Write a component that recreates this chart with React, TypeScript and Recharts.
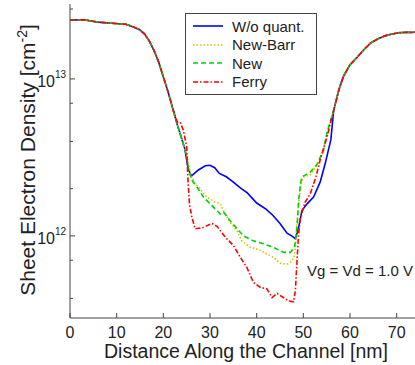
import { LineChart, Line, XAxis, YAxis } from 'recharts';

// shared stretches where all four models overlap
const leftX = [0, 3, 6, 9, 12, 14, 15, 16, 17, 18, 19, 20, 21, 22];
const leftN = [2.37e13, 2.38e13, 2.3e13, 2.26e13, 2.23e13, 2.12e13, 2.05e13, 1.93e13, 1.74e13, 1.52e13, 1.28e13, 1.03e13, 8.3e12, 6.5e12];
const rightX = [56.5, 57.6, 58.6, 60, 61.5, 63, 64.5, 66, 67.5, 69, 70.5, 72, 73.5, 75];
const rightN = [6.3e12, 8.5e12, 1.04e13, 1.23e13, 1.37e13, 1.54e13, 1.7e13, 1.8e13, 1.88e13, 1.93e13, 1.97e13, 1.98e13, 1.98e13, 1.99e13];

const woQuantX = [23, 24, 24.6, 25.3, 26, 27.5, 29, 30, 31, 32, 33.5, 35, 36.5, 38, 40, 42, 43.5, 45, 46.5, 47.5, 48.3, 49, 49.7, 50.8, 52.2, 53.6, 54.7, 55.9];
const woQuantN = [5.1e12, 4.1e12, 3.6e12, 2.7e12, 2.4e12, 2.63e12, 2.8e12, 2.82e12, 2.72e12, 2.5e12, 2.38e12, 2.2e12, 2.02e12, 1.88e12, 1.62e12, 1.48e12, 1.35e12, 1.2e12, 1.04e12, 1.0e12, 9.6e11, 1.13e12, 1.45e12, 1.6e12, 1.77e12, 2.2e12, 2.9e12, 4.1e12];

const newBarrX = [23, 24, 25, 25.8, 26.8, 27.9, 29.3, 31.1, 32.2, 32.9, 34.3, 35.8, 36.8, 38.6, 40.4, 42.2, 43.6, 45.1, 46.5, 47.6, 48.1, 48.3, 48.5, 48.9, 49.5, 50.1, 51.5, 52.9, 54.3, 55.1];
const newBarrN = [5.1e12, 4.1e12, 3.3e12, 2.5e12, 2.15e12, 2.0e12, 1.77e12, 1.64e12, 1.6e12, 1.45e12, 1.22e12, 1.08e12, 9.3e11, 8.45e11, 8.2e11, 7.67e11, 7.3e11, 6.7e11, 6.6e11, 6.95e11, 7.5e11, 8.45e11, 1.08e12, 1.52e12, 2.16e12, 2.38e12, 2.45e12, 2.8e12, 3.45e12, 4.5e12];

const newX = [23, 24, 25, 25.5, 26.1, 27.2, 28.6, 30.4, 32.2, 32.9, 34.3, 35.8, 37.2, 39.3, 41.5, 43.6, 45.8, 47.2, 48.1, 48.3, 48.7, 49, 49.4, 49.7, 50.4, 51.5, 52.9, 54.3, 55.1];
const newN = [5.1e12, 4.1e12, 3.2e12, 2.6e12, 2.26e12, 2.05e12, 1.77e12, 1.56e12, 1.38e12, 1.42e12, 1.25e12, 1.11e12, 1.0e12, 9.3e11, 8.9e11, 8.45e11, 7.85e11, 7.85e11, 8.45e11, 9.3e11, 1.19e12, 1.68e12, 2.16e12, 2.38e12, 2.44e12, 2.55e12, 2.85e12, 3.5e12, 4.6e12];

const ferryX = [23, 23.6, 24.3, 25, 25.3, 25.6, 26.1, 26.8, 28.5, 30.4, 31.5, 33.3, 35, 36.5, 37.9, 39.3, 40.8, 42.2, 43.3, 44.4, 45.7, 46.8, 47.9, 48.3, 48.65, 49, 49.4, 50.4, 51.5, 52.7, 53.6, 55.1];
const ferryN = [5.3e12, 5.3e12, 4.7e12, 3.7e12, 2.2e12, 1.6e12, 1.32e12, 1.11e12, 1.13e12, 1.2e12, 1.15e12, 9.8e11, 8.7e11, 7.3e11, 6.3e11, 5.05e11, 4.7e11, 4.6e11, 4.05e11, 4.3e11, 4.05e11, 3.85e11, 3.8e11, 4.5e11, 7e11, 1.04e12, 1.32e12, 1.64e12, 1.86e12, 2.38e12, 3.04e12, 4.3e12];

const xTicks = [0, 10, 20, 30, 40, 50, 60, 70];
const yTicks = [4e11, 5e11, 6e11, 7e11, 8e11, 9e11, 1e12, 2e12, 3e12, 4e12, 5e12, 6e12, 7e12, 8e12, 9e12, 1e13, 2e13, 3e13];

const FONT = '"Liberation Sans", Arial, sans-serif';
const AXIS = '#444';

const pts = (xs: number[], ns: number[]) => xs.map((x, i) => ({ x, n: ns[i] }));
const series = (xs: number[], ns: number[]) => [...pts(leftX, leftN), ...pts(xs, ns), ...pts(rightX, rightN)];

const legendItems = [
  { name: 'W/o quant.', color: '#0000ff', dash: undefined, data: series(woQuantX, woQuantN) },
  { name: 'New-Barr', color: '#d4c400', dash: '1.5 2', data: series(newBarrX, newBarrN) },
  { name: 'New', color: '#00d000', dash: '5 3', data: series(newX, newN) },
  { name: 'Ferry', color: '#ff0000', dash: '5 2 1.5 2', data: series(ferryX, ferryN) },
];

function BottomTick({ x, y, payload }: any) {
  return (
    <g>
      <line x1={x} x2={x} y1={y} y2={y - 5} stroke={AXIS} />
      <text x={x} y={y + 20} textAnchor="middle" fontSize={16} fontFamily={FONT} fill="#222">
        {payload.value}
      </text>
    </g>
  );
}

function TopTick({ x, y, payload }: any) {
  if (payload.value === 0) return <g />;
  return <line x1={x} x2={x} y1={y} y2={y + 5} stroke={AXIS} />;
}

function LeftTick({ x, y, payload }: any) {
  const v = payload.value;
  const exp = Math.round(Math.log10(v));
  const major = Math.abs(v - Math.pow(10, exp)) < 1;
  return (
    <g>
      <line x1={x} x2={x + (major ? 5 : 3)} y1={y} y2={y} stroke={AXIS} />
      {major && (
        <>
          <text x={55} y={y + 8} textAnchor="end" fontSize={16} fontFamily={FONT} fill="#222">10</text>
          <text x={55} y={y - 1} fontSize={10} fontFamily={FONT} fill="#222">{exp}</text>
        </>
      )}
    </g>
  );
}

function YTitle() {
  return (
    <text transform="translate(35,160) rotate(-90)" textAnchor="middle" fontSize={21} fontFamily={FONT} fill="#222">
      Sheet Electron Density [cm<tspan fontSize={14} dy={-8}>-2</tspan><tspan dy={8}>]</tspan>
    </text>
  );
}

function XTitle() {
  return (
    <text x={246} y={358} textAnchor="middle" fontSize={19.5} fontFamily={FONT} fill="#222">
      Distance Along the Channel [nm]
    </text>
  );
}

export default function App() {
  return (
    <div style={{ position: 'absolute', top: 0, left: 0, width: 415, height: 365, overflow: 'hidden', background: '#fff' }}>
      <LineChart width={430} height={365} margin={{ top: 4, right: 10, left: 0, bottom: 0 }}>
        <XAxis
          dataKey="x"
          type="number"
          domain={[0, 75]}
          ticks={xTicks}
          height={47}
          tickSize={0}
          tickMargin={0}
          tickLine={false}
          tick={<BottomTick />}
          axisLine={{ stroke: AXIS }}
          label={<XTitle />}
          allowDataOverflow
        />
        <XAxis
          xAxisId="top"
          orientation="top"
          dataKey="x"
          type="number"
          domain={[0, 75]}
          ticks={xTicks}
          height={0}
          tickSize={0}
          tickMargin={0}
          tickLine={false}
          tick={<TopTick />}
          axisLine={{ stroke: AXIS }}
          allowDataOverflow
        />
        <YAxis
          scale="log"
          type="number"
          domain={[3e11, 3e13]}
          ticks={yTicks}
          width={70}
          tickSize={0}
          tickMargin={0}
          tickLine={false}
          tick={<LeftTick />}
          axisLine={{ stroke: AXIS }}
          label={<YTitle />}
          allowDataOverflow
        />
        {legendItems.map((s) => (
          <Line
            key={s.name}
            data={s.data}
            dataKey="n"
            name={s.name}
            type="linear"
            dot={false}
            stroke={s.color}
            strokeWidth={1.6}
            strokeDasharray={s.dash}
            isAnimationActive={false}
          />
        ))}
      </LineChart>

      <div
        style={{
          position: 'absolute', left: 185, top: 13, width: 130, height: 80,
          border: `1px solid ${AXIS}`, background: '#fff', fontFamily: FONT, fontSize: 15, color: '#222',
        }}
      >
        {legendItems.map((s, i) => (
          <div key={s.name} style={{ position: 'absolute', left: 0, top: 3 + i * 18.5, height: 18, display: 'flex', alignItems: 'center' }}>
            <svg width={46} height={18}>
              <line x1={7} x2={37} y1={9} y2={9} stroke={s.color} strokeWidth={1.6} strokeDasharray={s.dash} />
            </svg>
            <span style={{ whiteSpace: 'nowrap' }}>{s.name}</span>
          </div>
        ))}
      </div>

      <div style={{ position: 'absolute', left: 307, top: 262, fontFamily: FONT, fontSize: 15, color: '#222', whiteSpace: 'nowrap' }}>
        Vg = Vd = 1.0 V
      </div>
    </div>
  );
}
